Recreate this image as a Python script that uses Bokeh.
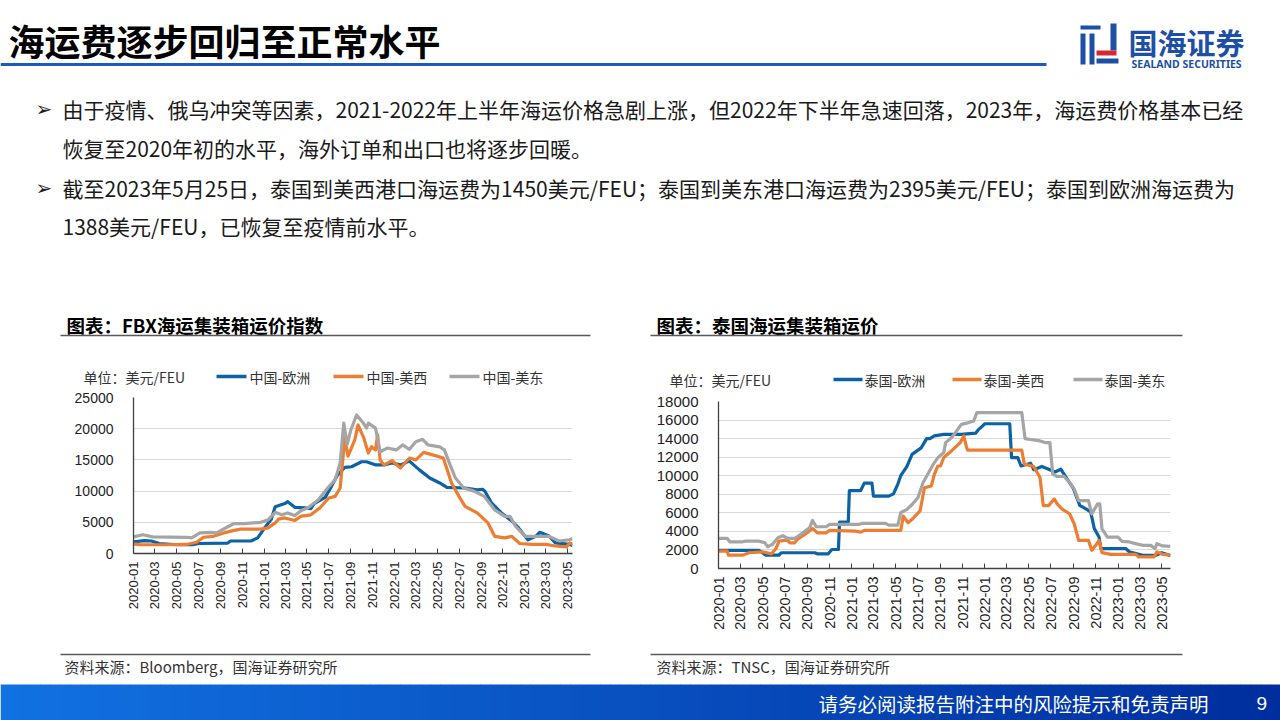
import math
import pandas as pd
from bokeh.plotting import figure
from bokeh.layouts import column, row
from bokeh.models import Range1d, FixedTicker, DatetimeTickFormatter, BasicTickFormatter
from bokeh.core.properties import value
from bokeh.embed import file_html
from bokeh.resources import INLINE

# ---------------- data ----------------
tick_labels = ["2020-01", "2020-03", "2020-05", "2020-07", "2020-09", "2020-11",
               "2021-01", "2021-03", "2021-05", "2021-07", "2021-09", "2021-11",
               "2022-01", "2022-03", "2022-05", "2022-07", "2022-09", "2022-11",
               "2023-01", "2023-03", "2023-05"]

fbx_legend = ["中国-欧洲", "中国-美西", "中国-美东"]
thai_legend = ["泰国-欧洲", "泰国-美西", "泰国-美东"]

fbx_eu_dates = ["2020-01-01", "2020-02-01", "2020-02-20", "2020-03-13", "2020-05-01", "2020-06-15", "2020-07-01",
                "2020-09-20", "2020-09-29", "2020-11-25", "2020-12-14", "2021-01-01", "2021-01-21", "2021-02-01",
                "2021-02-28", "2021-03-08", "2021-03-28", "2021-04-25", "2021-05-12", "2021-05-21", "2021-06-21",
                "2021-07-09", "2021-07-25", "2021-08-15", "2021-09-03", "2021-10-01", "2021-10-15", "2021-11-10",
                "2021-12-03", "2021-12-25", "2022-01-18", "2022-02-12", "2022-03-12", "2022-04-10", "2022-05-08",
                "2022-05-28", "2022-07-18", "2022-08-21", "2022-09-05", "2022-09-12", "2022-09-30", "2022-10-28",
                "2022-11-26", "2022-12-15", "2023-01-10", "2023-02-02", "2023-02-12", "2023-03-10", "2023-03-28",
                "2023-05-07", "2023-05-15"]
fbx_eu_vals = [1850, 2050, 2000, 1600, 1400, 1400, 1600,
               1650, 2000, 2000, 2500, 4000, 5500, 7500,
               8000, 8300, 7400, 7300, 7200, 8000, 9000,
               10800, 12500, 13800, 13900, 14700, 14700, 14200,
               14200, 14500, 14200, 14800, 13400, 12100, 11300,
               10600, 10500, 10200, 10300, 9950, 8100, 6500,
               5200, 4100, 2200, 2800, 3400, 2800, 1700,
               1450, 1300]

fbx_usw_dates = ["2020-01-01", "2020-01-17", "2020-04-02", "2020-05-28", "2020-06-26", "2020-07-15", "2020-08-12",
                 "2020-09-10", "2020-10-09", "2020-10-27", "2020-12-23", "2021-01-12", "2021-02-01", "2021-02-10",
                 "2021-02-28", "2021-03-28", "2021-04-15", "2021-05-12", "2021-06-06", "2021-07-01", "2021-07-19",
                 "2021-08-02", "2021-08-15", "2021-08-24", "2021-09-12", "2021-09-21", "2021-10-06", "2021-10-20",
                 "2021-10-29", "2021-11-09", "2021-11-15", "2021-11-22", "2021-12-03", "2021-12-25", "2022-01-18",
                 "2022-02-12", "2022-03-02", "2022-03-24", "2022-04-18", "2022-05-18", "2022-06-01", "2022-06-10",
                 "2022-07-01", "2022-07-18", "2022-08-21", "2022-09-20", "2022-10-09", "2022-11-06", "2022-11-26",
                 "2022-12-18", "2023-01-21", "2023-03-01", "2023-03-28", "2023-04-28", "2023-05-07", "2023-05-15"]
fbx_usw_vals = [1540, 1430, 1400, 1450, 1800, 2600, 2750,
                3300, 3700, 3900, 3900, 4100, 4900, 5500,
                5700, 5300, 6000, 6200, 7300, 8900, 9150,
                10500, 18500, 15600, 18200, 20600, 18700, 16100,
                17100, 16600, 19000, 15000, 14200, 14900, 13700,
                15300, 15000, 16200, 15800, 15300, 12900, 11300,
                9150, 7550, 6500, 4900, 2750, 2500, 2750,
                1600, 1450, 1450, 1200, 1050, 1700, 1500]

fbx_use_dates = ["2020-01-01", "2020-01-27", "2020-02-24", "2020-05-28", "2020-06-12", "2020-07-05", "2020-08-03",
                 "2020-08-21", "2020-09-20", "2020-10-09", "2020-11-06", "2020-12-23", "2021-01-12", "2021-02-01",
                 "2021-02-19", "2021-03-08", "2021-03-28", "2021-04-15", "2021-05-03", "2021-06-02", "2021-07-01",
                 "2021-07-19", "2021-08-02", "2021-08-12", "2021-08-22", "2021-09-01", "2021-09-17", "2021-10-06",
                 "2021-10-15", "2021-10-20", "2021-11-09", "2021-11-22", "2021-12-12", "2022-01-06", "2022-01-24",
                 "2022-02-12", "2022-03-02", "2022-03-21", "2022-04-05", "2022-05-08", "2022-05-21", "2022-06-06",
                 "2022-06-21", "2022-07-14", "2022-08-12", "2022-09-10", "2022-10-09", "2022-11-06", "2022-11-21",
                 "2022-12-06", "2023-01-03", "2023-03-10", "2023-04-08", "2023-05-07", "2023-05-15"]
fbx_use_vals = [2660, 3000, 2660, 2600, 2500, 3300, 3400,
                3300, 4250, 4800, 4800, 5000, 5400, 6600,
                6200, 6500, 6100, 6900, 7300, 8600, 10700,
                11800, 14500, 20900, 17500, 19800, 22200, 20900,
                20100, 20900, 20100, 16300, 16900, 16600, 17400,
                16700, 17900, 18300, 17400, 17100, 16600, 14200,
                12100, 10500, 10000, 9150, 7000, 5950, 5950,
                4400, 2750, 2750, 2000, 2200, 2400]

thai_eu_dates = ["2020-01-01", "2020-04-21", "2020-05-10", "2020-06-15", "2020-06-21", "2020-09-21", "2020-09-28",
                 "2020-10-28", "2020-11-07", "2020-11-25", "2020-11-28", "2020-12-22", "2020-12-25", "2021-01-25",
                 "2021-02-04", "2021-02-25", "2021-03-01", "2021-04-12", "2021-04-25", "2021-05-07", "2021-05-15",
                 "2021-06-01", "2021-06-15", "2021-07-10", "2021-07-25", "2021-08-03", "2021-08-15", "2021-09-10",
                 "2021-10-28", "2021-12-07", "2021-12-15", "2022-01-01", "2022-03-10", "2022-03-15", "2022-04-01",
                 "2022-04-10", "2022-05-06", "2022-05-15", "2022-06-06", "2022-06-25", "2022-07-12", "2022-07-28",
                 "2022-08-12", "2022-09-01", "2022-09-18", "2022-10-06", "2022-10-18", "2022-10-28", "2022-11-10",
                 "2022-11-15", "2023-01-22", "2023-02-01", "2023-03-10", "2023-04-15", "2023-05-01", "2023-05-25"]
thai_eu_vals = [1950, 1950, 1440, 1440, 1700, 1700, 1580,
                1580, 2050, 2050, 5000, 5000, 8400, 8400,
                9200, 9200, 7800, 7800, 8050, 9100, 10000,
                11000, 12300, 13000, 14000, 14000, 14300, 14450,
                14450, 14600, 15000, 15600, 15600, 11950, 11950,
                11050, 11350, 10650, 11000, 10700, 10400, 10700,
                9800, 8600, 6800, 6400, 6100, 4300, 3400,
                2150, 2150, 1800, 1430, 1430, 1700, 1388]

thai_usw_dates = ["2020-01-01", "2020-01-25", "2020-01-28", "2020-03-07", "2020-03-25", "2020-05-01", "2020-05-25",
                  "2020-06-07", "2020-06-15", "2020-07-07", "2020-07-15", "2020-07-28", "2020-08-04", "2020-08-25",
                  "2020-09-15", "2020-09-28", "2020-10-22", "2020-11-01", "2021-01-10", "2021-01-25", "2021-02-04",
                  "2021-05-15", "2021-05-22", "2021-06-04", "2021-06-15", "2021-07-07", "2021-07-19", "2021-08-07",
                  "2021-08-15", "2021-08-25", "2021-09-01", "2021-09-10", "2021-10-01", "2021-10-10", "2021-10-25",
                  "2021-11-04", "2021-11-12", "2021-11-15", "2022-04-12", "2022-04-19", "2022-05-15", "2022-06-01",
                  "2022-06-10", "2022-06-25", "2022-07-10", "2022-07-18", "2022-08-01", "2022-08-21", "2022-09-03",
                  "2022-09-15", "2022-10-12", "2022-10-21", "2022-11-01", "2022-11-10", "2022-11-18", "2022-12-12",
                  "2023-02-18", "2023-02-27", "2023-04-10", "2023-04-18", "2023-05-03", "2023-05-25"]
thai_usw_vals = [1870, 1870, 1440, 1440, 1700, 1800, 1580,
                 2160, 2950, 3060, 2770, 2770, 3130, 3670,
                 4320, 3850, 3850, 4100, 4030, 3920, 4100,
                 4100, 5650, 4930, 5300, 6200, 8700, 8900,
                 10150, 11050, 11050, 11960, 12670, 13000, 13560,
                 14280, 13000, 12750, 12750, 11250, 11000, 9800,
                 6780, 6780, 7500, 6960, 6400, 5900, 4800,
                 3030, 3030, 1960, 2500, 3030, 1710, 1530,
                 1530, 1250, 1250, 1790, 1530, 1450]

thai_use_dates = ["2020-01-01", "2020-01-25", "2020-02-01", "2020-03-07", "2020-03-15", "2020-04-21", "2020-05-07",
                  "2020-05-15", "2020-05-28", "2020-06-12", "2020-06-25", "2020-07-10", "2020-07-28", "2020-08-07",
                  "2020-08-22", "2020-09-07", "2020-09-15", "2020-09-25", "2020-10-22", "2020-11-01", "2021-01-19",
                  "2021-01-28", "2021-04-03", "2021-04-12", "2021-05-07", "2021-05-15", "2021-06-01", "2021-06-15",
                  "2021-07-01", "2021-07-15", "2021-07-28", "2021-08-12", "2021-08-25", "2021-09-10", "2021-09-15",
                  "2021-10-01", "2021-10-12", "2021-10-28", "2021-11-15", "2021-12-01", "2021-12-10", "2022-04-12",
                  "2022-04-21", "2022-05-06", "2022-06-01", "2022-06-15", "2022-06-28", "2022-07-06", "2022-07-18",
                  "2022-08-06", "2022-08-21", "2022-09-03", "2022-09-15", "2022-10-12", "2022-10-21", "2022-11-06",
                  "2022-11-12", "2022-11-18", "2022-12-03", "2023-01-01", "2023-01-12", "2023-02-01", "2023-02-18",
                  "2023-03-10", "2023-04-01", "2023-04-12", "2023-04-18", "2023-05-03", "2023-05-25"]
thai_use_vals = [3240, 3240, 2880, 2880, 2950, 2950, 2770,
                 2340, 2600, 3310, 3530, 3240, 3240, 3500,
                 3920, 4400, 5180, 4500, 4500, 4750, 4750,
                 4860, 4860, 4680, 4680, 6010, 6370, 6900,
                 7630, 9250, 10150, 11230, 11950, 12500, 13570,
                 14100, 14640, 15530, 15700, 15900, 16800, 16800,
                 14000, 13900, 13750, 13570, 13570, 10170, 9920,
                 9920, 9280, 8570, 7320, 7320, 5890, 6960,
                 6960, 4280, 3390, 3390, 2930, 2860, 2680,
                 2500, 2500, 2140, 2680, 2430, 2395]

COLORS = ["#0B62A4", "#ED7D31", "#A5A5A5"]
CJK = value("Noto Sans CJK SC")
LAT = value("Liberation Sans")
HDR_H = 389
CH_H = 650 - HDR_H


def deco(width, height, top):
    p = figure(width=width, height=height, x_range=Range1d(0, width), y_range=Range1d(top + height, top),
               output_backend="svg", toolbar_location=None, x_axis_location=None, y_axis_location=None,
               min_border=0, outline_line_color=None, background_fill_color="white",
               border_fill_color="white")
    p.grid.visible = False
    return p


def chart(series, x_end, y_max, y_step, left, right, top, bottom, xfs, yfs):
    p = figure(width=640, height=CH_H, x_axis_type="datetime",
               x_range=Range1d(pd.Timestamp("2020-01-01"), pd.Timestamp(x_end)),
               y_range=Range1d(0, y_max), output_backend="svg", toolbar_location=None,
               min_border_left=left, min_border_right=right, min_border_top=top, min_border_bottom=bottom,
               outline_line_color=None, background_fill_color="white", border_fill_color="white")
    for (d, v), c in zip(series, COLORS):
        p.line(pd.to_datetime(d), v, line_color=c, line_width=3.2, line_join="round")
    yt = list(range(0, y_max + 1, y_step))
    p.yaxis.ticker = FixedTicker(ticks=yt)
    p.ygrid.ticker = FixedTicker(ticks=yt)
    p.yaxis.formatter = BasicTickFormatter(use_scientific=False)
    p.ygrid.grid_line_color = "#D9D9D9"
    p.ygrid.grid_line_width = 1.2
    p.xgrid.visible = False
    xt = [pd.Timestamp(t + "-01").value / 1e6 for t in tick_labels]
    p.xaxis.ticker = FixedTicker(ticks=xt)
    fmt = "%Y-%m"
    p.xaxis.formatter = DatetimeTickFormatter(years=fmt, months=fmt, days=fmt, hours=fmt, minutes=fmt,
                                              strip_leading_zeros=False)
    p.xaxis.major_label_orientation = math.pi / 2
    for ax in (p.xaxis[0], p.yaxis[0]):
        ax.axis_line_color = "#404040"
        ax.axis_line_width = 1.3
        ax.major_label_text_font = "Liberation Sans"
        ax.major_label_text_color = "#222222"
        ax.minor_tick_line_color = None
    p.xaxis.major_label_text_font_size = xfs
    p.yaxis.major_label_text_font_size = yfs
    p.yaxis.major_tick_line_color = None
    p.xaxis.major_tick_in = 5
    p.xaxis.major_tick_out = 0
    p.xaxis.major_tick_line_color = "#404040"
    p.xaxis.major_label_standoff = 8
    p.yaxis.major_label_standoff = 14
    return p


# ---------------- header ----------------
hdr = deco(1280, HDR_H, 0)
hdr.text(x=[8], y=[39], text=["海运费逐步回归至正常水平"], text_font=CJK, text_font_style="bold",
         text_font_size="36px", text_baseline="middle", text_color="#000000")
hdr.segment(x0=[0], y0=[64], x1=[1046], y1=[64], line_color="#1C5BBE", line_width=3)

# logo
blue_l = "#1E4FA6"
hdr.quad(left=[1080, 1080, 1089, 1110, 1096], right=[1100, 1085, 1094, 1116, 1118],
         top=[25, 33, 33, 23, 58], bottom=[29, 64, 64, 50, 63], fill_color=blue_l, line_color=None)
hdr.quad(left=[1096], right=[1116], top=[50], bottom=[55], fill_color="#D7282F", line_color=None)
hdr.text(x=[1128], y=[41], text=["国海证券"], text_font=CJK, text_font_style="bold", text_font_size="29px",
         text_baseline="middle", text_color=blue_l)
hdr.text(x=[1131], y=[63], text=["SEALAND SECURITIES"], text_font=value("Noto Sans"), text_font_style="bold",
         text_font_size="10.5px", text_baseline="middle", text_color=blue_l)

# bullets
hdr.text(x=[35, 35], y=[108, 187], text=["➢", "➢"], text_font=value("DejaVu Sans"), text_font_size="20px",
         text_baseline="middle", text_color="#222222")
body = ["由于疫情、俄乌冲突等因素，2021-2022年上半年海运价格急剧上涨，但2022年下半年急速回落，2023年，海运费价格基本已经",
        "恢复至2020年初的水平，海外订单和出口也将逐步回暖。",
        "截至2023年5月25日，泰国到美西港口海运费为1450美元/FEU；泰国到美东港口海运费为2395美元/FEU；泰国到欧洲海运费为",
        "1388美元/FEU，已恢复至疫情前水平。"]
hdr.text(x=[62, 62, 62, 62], y=[108, 147, 187, 225], text=body, text_font=CJK, text_font_size="21px",
         text_baseline="middle", text_color="#1A1A1A")

# chart titles
hdr.text(x=[66, 656], y=[324, 324], text=["图表：FBX海运集装箱运价指数", "图表：泰国海运集装箱运价"], text_font=CJK,
         text_font_style="bold", text_font_size="18.5px", text_baseline="middle", text_color="#000000")
hdr.segment(x0=[60, 650], y0=[335, 335], x1=[590, 1182], y1=[335, 335], line_color="#595959", line_width=1.5)

# legends (unit + swatches)
L1Y, L2Y = 376, 379
hdr.text(x=[83, 669], y=[L1Y, L2Y], text=["单位：美元/FEU", "单位：美元/FEU"], text_font=CJK, text_font_size="14px",
         text_baseline="middle", text_color="#333333")
sw1 = [216, 333, 449]
sw2 = [833, 952, 1073]
for i in range(3):
    hdr.segment(x0=[sw1[i]], y0=[L1Y], x1=[sw1[i] + 30], y1=[L1Y], line_color=COLORS[i], line_width=3.5)
    hdr.segment(x0=[sw2[i]], y0=[L2Y], x1=[sw2[i] + 29], y1=[L2Y], line_color=COLORS[i], line_width=3.5)
hdr.text(x=[s + 33 for s in sw1], y=[L1Y] * 3, text=fbx_legend, text_font=CJK, text_font_size="14px",
         text_baseline="middle", text_color="#333333")
hdr.text(x=[s + 31 for s in sw2], y=[L2Y] * 3, text=thai_legend, text_font=CJK, text_font_size="14px",
         text_baseline="middle", text_color="#333333")

# ---------------- charts ----------------
c1 = chart([(fbx_eu_dates, fbx_eu_vals), (fbx_usw_dates, fbx_usw_vals), (fbx_use_dates, fbx_use_vals)],
           "2023-05-15", 25000, 5000, left=133, right=68, top=397 - HDR_H, bottom=650 - 553,
           xfs="13px", yfs="14px")
c2 = chart([(thai_eu_dates, thai_eu_vals), (thai_usw_dates, thai_usw_vals), (thai_use_dates, thai_use_vals)],
           "2023-05-25", 18000, 2000, left=78, right=110, top=401 - HDR_H, bottom=650 - 568,
           xfs="14.5px", yfs="15px")

# ---------------- footer ----------------
ftr = deco(1280, 70, 650)
ftr.segment(x0=[60, 650], y0=[654, 654], x1=[590, 1182], y1=[654, 654], line_color="#595959", line_width=1.5)
ftr.text(x=[64, 656], y=[666, 666], text=["资料来源：Bloomberg，国海证券研究所", "资料来源：TNSC，国海证券研究所"],
         text_font=CJK, text_font_size="15px", text_baseline="middle", text_color="#333333")
n = 128
lefts = [i * 10 for i in range(n)]
c0 = (0x12, 0x72, 0xE2)
c1c = (0x00, 0x2E, 0x9E)
cols = []
for i in range(n):
    t = i / (n - 1)
    cols.append("#%02x%02x%02x" % tuple(int(c0[k] + (c1c[k] - c0[k]) * t) for k in range(3)))
ftr.quad(left=lefts, right=[l + 10.5 for l in lefts], top=[684] * n, bottom=[720] * n, fill_color=cols,
         line_color=None)
ftr.text(x=[818], y=[703], text=["请务必阅读报告附注中的风险提示和免责声明"], text_font=CJK, text_font_size="19.5px",
         text_baseline="middle", text_color="white")
ftr.text(x=[1256], y=[703], text=["9"], text_font=LAT, text_font_size="19px", text_baseline="middle",
         text_color="white")

layout = column(hdr, row(column(c1, spacing=0), column(c2, spacing=0), spacing=0), ftr, spacing=0)
open("out.html", "w").write(file_html(layout, INLINE))
